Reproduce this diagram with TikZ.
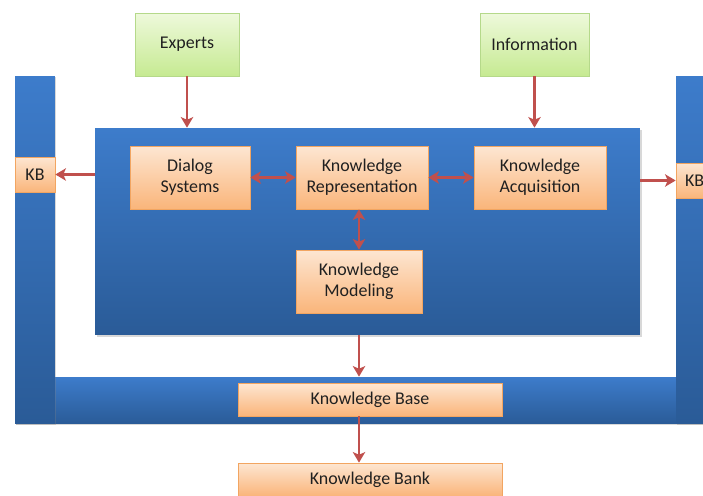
\documentclass[tikz,border=0pt]{standalone}
\usepackage{fontspec}
\setmainfont{Carlito}
\usetikzlibrary{arrows.meta,shadows}
\definecolor{bluetop}{HTML}{3D7CCB}
\definecolor{bluebot}{HTML}{2A5B97}
\definecolor{ortop}{HTML}{FDE6D2}
\definecolor{orbot}{HTML}{FAB57A}
\definecolor{orline}{HTML}{F2A561}
\definecolor{grtop}{HTML}{EEF9DB}
\definecolor{grbot}{HTML}{C6EA92}
\definecolor{grline}{HTML}{B5D98A}
\definecolor{arr}{HTML}{C0504D}
\definecolor{txt}{HTML}{202020}
\tikzset{
  px/.style={x=0.02cm,y=-0.02cm},
  obox/.style={rectangle, draw=orline, line width=0.4pt, top color=ortop, bottom color=orbot,
    text=txt, align=center, font=\fontsize{10.2}{12.2}\selectfont, inner sep=0pt,
    drop shadow={shadow xshift=0.6pt,shadow yshift=-0.6pt,opacity=0.35}},
  gbox/.style={rectangle, draw=grline, line width=0.4pt, top color=grtop, bottom color=grbot,
    text=txt, align=center, font=\fontsize{10.2}{12.2}\selectfont, inner sep=0pt,
    drop shadow={shadow xshift=0.6pt,shadow yshift=-0.6pt,opacity=0.35}},
  bluebox/.style={rectangle, top color=bluetop, bottom color=bluebot, inner sep=0pt, draw=none},
  conn/.style={draw=arr, line width=1.4pt, -{Stealth[length=6pt,width=7pt,inset=1.5pt]}},
  bconn/.style={draw=arr, line width=1.4pt, {Stealth[length=6pt,width=7pt,inset=1.5pt]}-{Stealth[length=6pt,width=7pt,inset=1.5pt]}},
}
\begin{document}
\begin{tikzpicture}[px]
\useasboundingbox (0,0) rectangle (703,496);
\clip (0,0) rectangle (703,496);
\fill[white] (0,0) rectangle (703,496);
% frame bars
\node[bluebox, minimum width=13.8cm, minimum height=0.94cm, drop shadow={shadow xshift=0.8pt,shadow yshift=-0.8pt,opacity=0.3}] (bbar) at (360,400.5) {};
\node[bluebox, minimum width=0.8cm, minimum height=6.96cm, drop shadow={shadow xshift=0.8pt,shadow yshift=-0.8pt,opacity=0.3}] (lbar) at (35,250) {};
\node[bluebox, minimum width=0.8cm, minimum height=6.96cm, drop shadow={shadow xshift=0.8pt,shadow yshift=-0.8pt,opacity=0.3}] (rbar) at (696,250) {};
% core
\node[bluebox, minimum width=10.9cm, minimum height=4.14cm, drop shadow={shadow xshift=1pt,shadow yshift=-1pt,opacity=0.3}] (core) at (367.5,231.5) {};
% boxes
\node[gbox, minimum width=2.08cm, minimum height=1.26cm] (exp) at (187,44.5) {Experts};
\node[gbox, minimum width=2.18cm, minimum height=1.26cm] (inf) at (534.5,44.5) {Information};
\node[obox, minimum width=2.4cm, minimum height=1.26cm] (ds) at (190,177.5) {Dialog\\Systems};
\node[obox, minimum width=2.64cm, minimum height=1.26cm] (kr) at (362,177.5) {Knowledge\\Representation};
\node[obox, minimum width=2.64cm, minimum height=1.26cm] (ka) at (540,177.5) {Knowledge\\Acquisition};
\node[obox, minimum width=2.52cm, minimum height=1.26cm] (km) at (359,281.5) {Knowledge\\Modeling};
\node[obox, minimum width=0.8cm, minimum height=0.7cm] (kbl) at (35,174.5) {KB};
\node[obox, minimum width=0.8cm, minimum height=0.7cm, text width=0.8cm, align=left] (kbr) at (696,180.5) {\hspace*{0.18cm}KB};
\node[obox, minimum width=5.28cm, minimum height=0.66cm] (kbase) at (370,399.5) {Knowledge Base};
\node[obox, minimum width=5.28cm, minimum height=0.66cm] (kbank) at (370,479.5) {Knowledge Bank};
% connectors
\draw[conn] (exp.south) -- (exp.south |- core.north);
\draw[conn] (inf.south) -- (inf.south |- core.north);
\draw[conn] (core.west |- kbl.east) -- (kbl.east);
\draw[conn] (core.east |- kbr.west) -- (kbr.west);
\draw[bconn] (ds.east) -- (ds.east -| kr.west);
\draw[bconn] (kr.east) -- (kr.east -| ka.west);
\draw[bconn] (km.north) -- (km.north |- kr.south);
\draw[conn] (km.south |- core.south) -- (km.south |- bbar.north);
\draw[conn] (km.south |- kbase.south) -- (km.south |- kbank.north);
\end{tikzpicture}
\end{document}
